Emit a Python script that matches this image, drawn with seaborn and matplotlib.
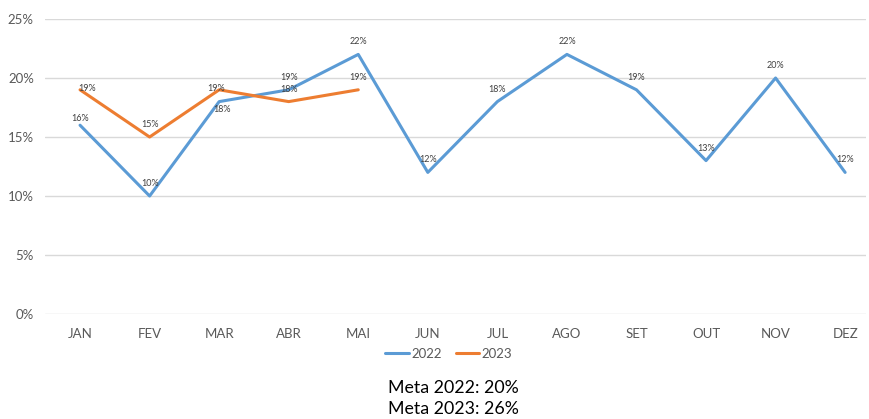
import matplotlib
matplotlib.use("Agg")
import matplotlib.pyplot as plt
import seaborn as sns
import pandas as pd
from matplotlib.ticker import PercentFormatter

# Chart data
months = ["JAN", "FEV", "MAR", "ABR", "MAI", "JUN", "JUL", "AGO", "SET", "OUT", "NOV", "DEZ"]
values_2022 = [0.16, 0.10, 0.18, 0.19, 0.22, 0.12, 0.18, 0.22, 0.19, 0.13, 0.20, 0.12]
values_2023 = [0.19, 0.15, 0.19, 0.18, 0.19]
series_names = ["2022", "2023"]
meta_lines = ["Meta 2022: 20%", "Meta 2023: 26%"]

# label offsets in points (style only)
offsets_2022 = [(0, 5), (0, 9), (2, -6), (0, 9), (0, 9), (0, 9), (0, 9), (0, 9), (0, 9), (0, 9), (0, 9), (0, 9)]
offsets_2023 = [(5, 1), (0, 9), (-2, 1), (0, 9), (0, 9)]

COLORS = {"2022": "#5B9BD5", "2023": "#ED7D31"}

df = pd.concat([
    pd.DataFrame({"mes": months, "valor": values_2022, "ano": series_names[0]}),
    pd.DataFrame({"mes": months[:len(values_2023)], "valor": values_2023, "ano": series_names[1]}),
], ignore_index=True)

sns.set_theme(style="white")
plt.rcParams["font.family"] = ["Lato", "DejaVu Sans"]

fig = plt.figure(figsize=(8.69, 4.19), dpi=100)
ax = fig.add_axes([45 / 869, 1 - 314 / 419, (866 - 45) / 869, (314 - 19) / 419])

sns.lineplot(data=df, x="mes", y="valor", hue="ano", palette=COLORS,
             linewidth=2.2, sort=False, ax=ax, legend=True)

ax.set_ylim(0, 0.25)
ax.set_xlim(-0.504, 11.30)
ax.set_yticks([0, 0.05, 0.10, 0.15, 0.20, 0.25])
ax.yaxis.set_major_formatter(PercentFormatter(1.0, decimals=0))
ax.grid(axis="y", color="#D9D9D9", linewidth=1)
ax.set_axisbelow(True)
for s in ax.spines.values():
    s.set_visible(False)
ax.set_xlabel("")
ax.set_ylabel("")
ax.tick_params(axis="both", colors="#595959", labelsize=9.5, length=0)
ax.tick_params(axis="x", pad=10)
ax.tick_params(axis="y", pad=8)

# data labels
for i, (v, off) in enumerate(zip(values_2022, offsets_2022)):
    ax.annotate(f"{v * 100:.0f}%", (i, v), xytext=off, textcoords="offset points",
                ha="center", va="center", fontsize=6.5, color="#404040")
for i, (v, off) in enumerate(zip(values_2023, offsets_2023)):
    ax.annotate(f"{v * 100:.0f}%", (i, v), xytext=off, textcoords="offset points",
                ha="center", va="center", fontsize=6.5, color="#404040")

handles, labels = ax.get_legend_handles_labels()
ax.legend(handles, labels, loc="center", bbox_to_anchor=(449 / 869, 1 - 354 / 419),
          bbox_transform=fig.transFigure, ncol=2, frameon=False, fontsize=9.5,
          handlelength=1.8, handletextpad=0.2, columnspacing=1.0, labelcolor="#595959")

fig.text(453 / 869, 1 - 388 / 419, meta_lines[0], ha="center", va="center", fontsize=12.8, color="black")
fig.text(453 / 869, 1 - 409 / 419, meta_lines[1], ha="center", va="center", fontsize=12.8, color="black")

fig.savefig("out.png", dpi=100)
